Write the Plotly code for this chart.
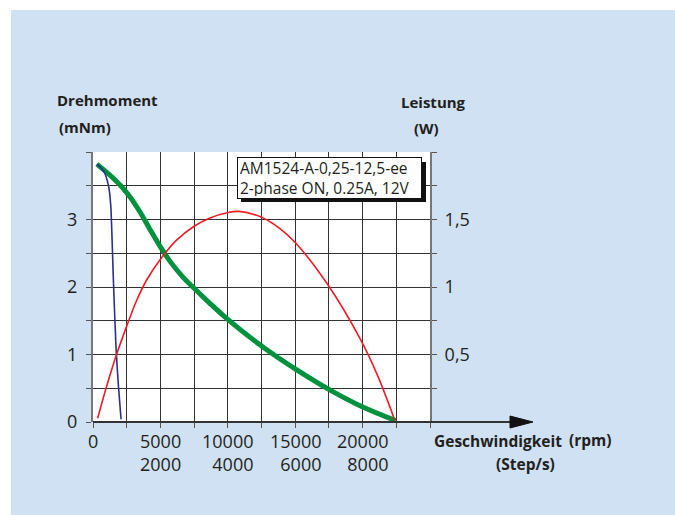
import plotly.graph_objects as go

# ---------------- data ----------------
rpm_torque = [294, 1275, 1750, 2000, 2250, 2500, 2750, 3000, 3500, 4215, 5000, 5690, 6670, 7500, 8630, 9950, 12430, 13770, 15000, 17400, 19850, 22450]
torque_mNm = [3.82, 3.653, 3.564, 3.512, 3.458, 3.397, 3.333, 3.262, 3.108, 2.857, 2.594, 2.387, 2.147, 1.981, 1.766, 1.528, 1.136, 0.948, 0.787, 0.494, 0.237, 0.021]

rpm_power = [343, 1030, 1765, 2500, 3235, 3970, 5000, 6180, 7500, 8630, 9950, 10830, 12430, 13770, 15000, 17400, 19850, 21130, 22400]
power_W = [0.027, 0.27, 0.505, 0.71, 0.90, 1.05, 1.205, 1.345, 1.45, 1.51, 1.55, 1.56, 1.52, 1.44, 1.33, 1.02, 0.61, 0.34, 0.01]

rpm_blue = [294, 784, 1150, 1320, 1400, 1520, 1715, 1890, 2080]
torque_blue = [3.82, 3.72, 3.50, 3.20, 2.80, 2.06, 1.07, 0.525, 0.04]

x_tick_rpm = [0, 5000, 10000, 15000, 20000]
x_tick_steps = ["", "2000", "4000", "6000", "8000"]
x_tick_labels = ["0", "5000", "10000", "15000", "20000"]

y_grid = [0, 0.5, 1, 1.5, 2, 2.5, 3, 3.5, 4]
y_labels = ["0", "", "1", "", "2", "", "3", "", ""]
y2_grid = [0, 0.25, 0.5, 0.75, 1, 1.25, 1.5, 1.75, 2]
y2_labels = ["", "", "0,5", "", "1", "", "1,5", "", ""]
x_grid = [0, 2500, 5000, 7500, 10000, 12500, 15000, 17500, 20000, 22500, 25000]

info_text = "AM1524-A-0,25-12,5-ee<br>2-phase ON, 0.25A, 12V"

# ---------------- layout geometry ----------------
W, H = 675, 515
L, R, T, B = 93, 245, 152, 93
PW, PH = W - L - R, H - T - B

def px(xp):
    return (xp - L) / PW

def py(yp):
    return (H - B - yp) / PH

FONT = "Open Sans"
TXT = "#231f20"
BLUE_BG = "#cfe1f2"

fig = go.Figure()
fig.add_trace(go.Scatter(x=rpm_torque, y=torque_mNm, mode="lines",
                         line=dict(color="#00913f", width=5, shape="spline", smoothing=1.0),
                         hoverinfo="skip", showlegend=False))
fig.add_trace(go.Scatter(x=rpm_blue, y=torque_blue, mode="lines",
                         line=dict(color="#2b2f8f", width=1.6, shape="spline", smoothing=0.6),
                         hoverinfo="skip", showlegend=False))
fig.add_trace(go.Scatter(x=rpm_power, y=power_W, mode="lines", yaxis="y2",
                         line=dict(color="#ee1c25", width=1.6, shape="spline", smoothing=1.0),
                         hoverinfo="skip", showlegend=False))

fig.update_layout(
    width=W, height=H,
    margin=dict(l=L, r=R, t=T, b=B, pad=0),
    paper_bgcolor=BLUE_BG, plot_bgcolor="white",
    font=dict(family=FONT, color=TXT, size=18),
    xaxis=dict(range=[0, 25000], tickvals=x_grid, ticktext=[""] * len(x_grid),
               showgrid=True, gridcolor="#333333", gridwidth=1, zeroline=False,
               showline=False, ticks="outside", ticklen=5, tickcolor="#555555",
               fixedrange=True),
    yaxis=dict(range=[0, 4], tickvals=y_grid, ticktext=y_labels,
               showgrid=True, gridcolor="#333333", gridwidth=1, zeroline=False,
               showline=True, linecolor="#777777", linewidth=2,
               ticks="outside", ticklen=5, tickcolor="#555555", ticklabelstandoff=5,
               tickfont=dict(size=18, color=TXT), fixedrange=True),
    yaxis2=dict(range=[0, 2], overlaying="y", side="right", tickvals=y2_grid, ticktext=y2_labels,
                showgrid=False, zeroline=False, showline=True, linecolor="#777777", linewidth=2,
                ticks="outside", ticklen=5, tickcolor="#555555", ticklabelstandoff=4,
                tickfont=dict(size=18, color=TXT), fixedrange=True),
)

shapes = []
# white frame strips (top & left)
shapes.append(dict(type="rect", xref="paper", yref="paper", x0=px(0), x1=px(W), y0=py(10), y1=py(0),
                   fillcolor="white", line=dict(width=0), layer="below"))
shapes.append(dict(type="rect", xref="paper", yref="paper", x0=px(0), x1=px(11), y0=py(H), y1=py(0),
                   fillcolor="white", line=dict(width=0), layer="below"))
# x axis line with arrow
shapes.append(dict(type="line", xref="paper", yref="paper", x0=0, x1=px(515), y0=0, y1=0,
                   line=dict(color="#333333", width=2)))
shapes.append(dict(type="path", xref="paper", yref="paper",
                   path=f"M {px(510)} {py(416)} L {px(533)} {py(422)} L {px(510)} {py(428)} Z",
                   fillcolor="#111111", line=dict(color="#111111", width=1)))
# info box shadow
shapes.append(dict(type="rect", xref="paper", yref="paper", x0=px(241), x1=px(426), y0=py(202), y1=py(162),
                   fillcolor="#111111", line=dict(width=0), layer="above"))
fig.update_layout(shapes=shapes)

ann = []
# x tick labels (rpm over step/s), right aligned block centred on tick
for v, t1, t2 in zip(x_tick_rpm, x_tick_labels, x_tick_steps):
    if t2:
        ann.append(dict(x=v, xref="x", y=py(452), yref="paper", text=f"{t1}<br>{t2}",
                        showarrow=False, align="right", xanchor="center", yanchor="middle",
                        font=dict(size=18, color=TXT, family=FONT)))
    else:
        ann.append(dict(x=v, xref="x", y=py(441), yref="paper", text=t1,
                        showarrow=False, xanchor="center", yanchor="middle",
                        font=dict(size=18, color=TXT, family=FONT)))

def label(text, xc, yc, size=15, bold=True):
    ann.append(dict(x=px(xc), y=py(yc), xref="paper", yref="paper",
                    text=f"<b>{text}</b>" if bold else text, showarrow=False,
                    xanchor="center", yanchor="middle",
                    font=dict(size=size, color=TXT, family=FONT)))

label("Drehmoment", 107, 100)
label("(mNm)", 85, 127)
label("Leistung", 433, 102)
label("(W)", 426, 128)
label("Geschwindigkeit", 498, 441, size=15.5)
label("(rpm)", 590, 440, size=15.5)
label("(Step/s)", 525, 464, size=15.5)

# info box
ann.append(dict(x=px(329.5), y=py(178), xref="paper", yref="paper", text=info_text,
                showarrow=False, align="left", valign="middle", xanchor="center", yanchor="middle",
                width=179, height=36, bgcolor="white", bordercolor="#111111", borderwidth=1,
                borderpad=2, font=dict(size=15.5, color=TXT, family=FONT)))

fig.update_layout(annotations=ann)

fig.write_html("out.html", config={"displayModeBar": False},
               post_script="document.body.style.margin='0';document.body.style.padding='0';")
